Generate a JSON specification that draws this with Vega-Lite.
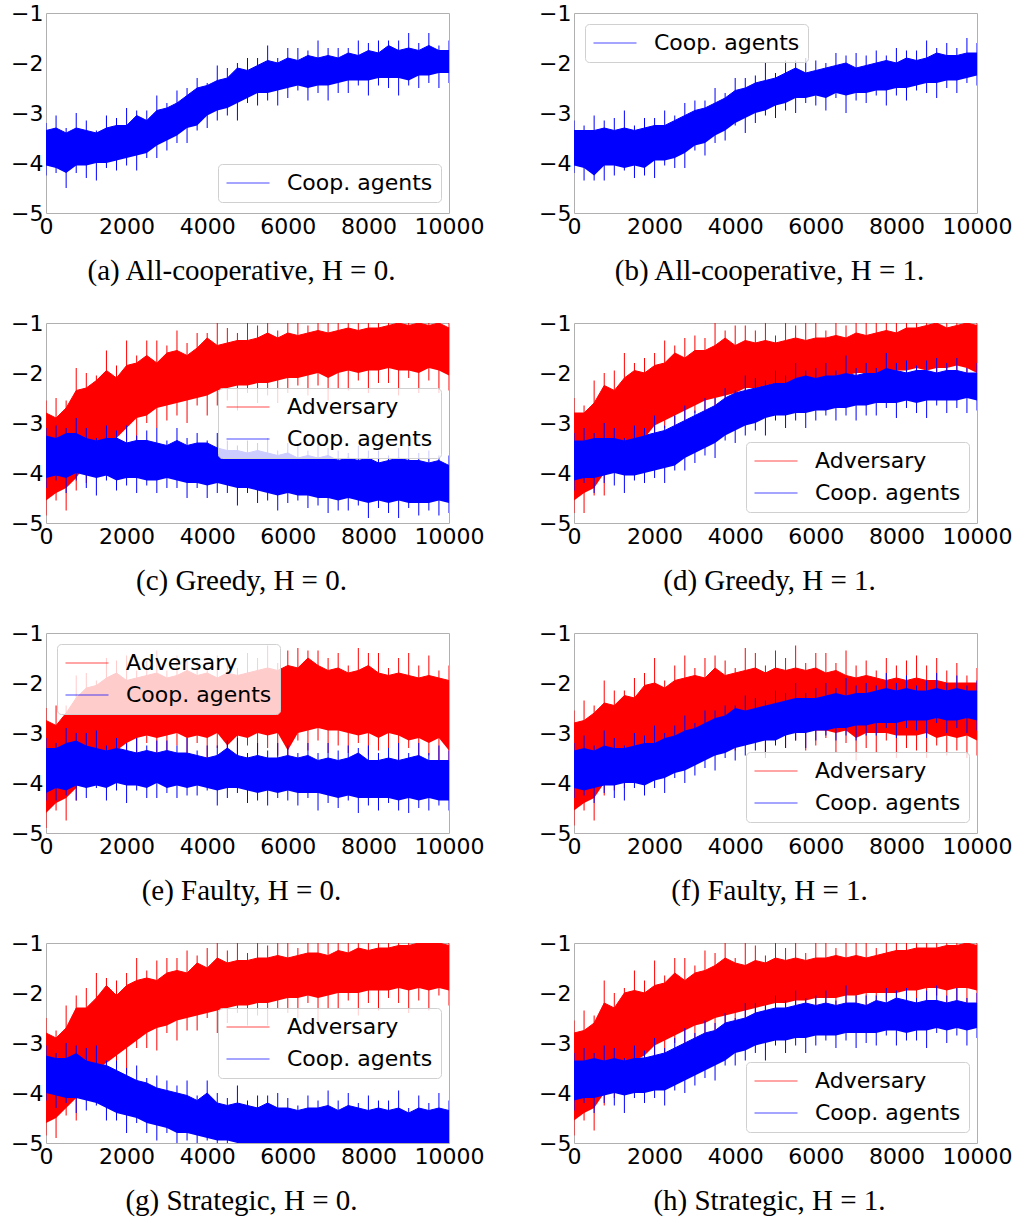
{
"$schema": "https://vega.github.io/schema/vega-lite/v6.json",
"padding": {"left": 10, "top": 1, "right": 4, "bottom": 4},
"config": {
 "font": "DejaVu Sans",
 "view": {"stroke": "#b0b0b0", "strokeWidth": 1},
 "axis": {"grid": false, "ticks": false, "tickSize": 0, "domain": false, "labelFont": "DejaVu Sans", "labelFontSize": 22, "labelColor": "black", "labelPadding": 3, "title": null, "labelFlush": false, "labelOverlap": false, "labelBound": false},
 "title": {"font": "Liberation Serif", "fontSize": 29, "fontWeight": "normal", "color": "black", "orient": "bottom", "offset": 20, "dx": -6, "anchor": "middle"},
 "legend": {"labelFont": "DejaVu Sans", "labelFontSize": 22, "labelColor": "black", "symbolType": "stroke", "symbolSize": 1849, "symbolStrokeWidth": 1.5, "symbolOpacity": 0.7, "clipHeight": 22, "rowPadding": 10, "labelOffset": 17, "padding": 8, "fillColor": "rgba(255,255,255,0.8)", "strokeColor": "#d0d0d0", "cornerRadius": 4, "labelLimit": 300},
 "rule": {"strokeWidth": 1, "xOffset": 5},
 "line": {"strokeWidth": 1}
},
"datasets": {
"a_c": [{"x":0,"h":-3.35,"l":-4.05,"u":-3.2,"d":-4.25},{"x":250,"h":-3.3,"l":-4.1,"u":-3.05,"d":-4.2},{"x":500,"h":-3.4,"l":-4.2,"u":-3.3,"d":-4.5},{"x":750,"h":-3.3,"l":-4.05,"u":-3.0,"d":-4.2},{"x":1000,"h":-3.35,"l":-4.05,"u":-3.15,"d":-4.3},{"x":1250,"h":-3.4,"l":-4.0,"u":-3.35,"d":-4.35},{"x":1500,"h":-3.3,"l":-4.0,"u":-3.05,"d":-4.1},{"x":1750,"h":-3.25,"l":-3.95,"u":-3.1,"d":-4.15},{"x":2000,"h":-3.25,"l":-3.9,"u":-2.9,"d":-4.05},{"x":2250,"h":-3.05,"l":-3.85,"u":-2.95,"d":-4.15},{"x":2500,"h":-3.15,"l":-3.8,"u":-2.95,"d":-3.9},{"x":2750,"h":-2.95,"l":-3.65,"u":-2.65,"d":-3.9},{"x":3000,"h":-2.9,"l":-3.55,"u":-2.8,"d":-3.75},{"x":3250,"h":-2.8,"l":-3.45,"u":-2.55,"d":-3.6},{"x":3500,"h":-2.65,"l":-3.3,"u":-2.5,"d":-3.6},{"x":3750,"h":-2.5,"l":-3.25,"u":-2.3,"d":-3.35},{"x":4000,"h":-2.45,"l":-3.05,"u":-2.4,"d":-3.3},{"x":4250,"h":-2.35,"l":-2.95,"u":-2.05,"d":-3.15},{"x":4500,"h":-2.3,"l":-2.9,"u":-2.1,"d":-3.05},{"x":4750,"h":-2.1,"l":-2.8,"u":-2.0,"d":-3.15},{"x":5000,"h":-2.15,"l":-2.7,"u":-1.9,"d":-2.8},{"x":5250,"h":-2.05,"l":-2.6,"u":-1.9,"d":-2.85},{"x":5500,"h":-1.95,"l":-2.6,"u":-1.65,"d":-2.75},{"x":5750,"h":-2.0,"l":-2.55,"u":-1.9,"d":-2.85},{"x":6000,"h":-1.9,"l":-2.5,"u":-1.7,"d":-2.7},{"x":6250,"h":-1.95,"l":-2.45,"u":-1.7,"d":-2.55},{"x":6500,"h":-1.85,"l":-2.5,"u":-1.75,"d":-2.75},{"x":6750,"h":-1.9,"l":-2.45,"u":-1.55,"d":-2.6},{"x":7000,"h":-1.85,"l":-2.45,"u":-1.7,"d":-2.75},{"x":7250,"h":-1.9,"l":-2.4,"u":-1.7,"d":-2.6},{"x":7500,"h":-1.8,"l":-2.35,"u":-1.7,"d":-2.6},{"x":7750,"h":-1.85,"l":-2.35,"u":-1.55,"d":-2.45},{"x":8000,"h":-1.75,"l":-2.35,"u":-1.6,"d":-2.65},{"x":8250,"h":-1.8,"l":-2.3,"u":-1.55,"d":-2.45},{"x":8500,"h":-1.65,"l":-2.3,"u":-1.55,"d":-2.5},{"x":8750,"h":-1.75,"l":-2.3,"u":-1.55,"d":-2.65},{"x":9000,"h":-1.7,"l":-2.35,"u":-1.4,"d":-2.45},{"x":9250,"h":-1.75,"l":-2.25,"u":-1.6,"d":-2.5},{"x":9500,"h":-1.65,"l":-2.25,"u":-1.4,"d":-2.4},{"x":9750,"h":-1.75,"l":-2.2,"u":-1.65,"d":-2.5},{"x":10000,"h":-1.75,"l":-2.2,"u":-1.55,"d":-2.4}],
"b_c": [{"x":0,"h":-3.35,"l":-4.05,"u":-3.15,"d":-4.2},{"x":250,"h":-3.35,"l":-4.1,"u":-3.25,"d":-4.35},{"x":500,"h":-3.35,"l":-4.25,"u":-3.05,"d":-4.35},{"x":750,"h":-3.3,"l":-4.05,"u":-3.15,"d":-4.35},{"x":1000,"h":-3.35,"l":-4.05,"u":-3.1,"d":-4.25},{"x":1250,"h":-3.3,"l":-4.1,"u":-2.95,"d":-4.15},{"x":1500,"h":-3.35,"l":-4.05,"u":-3.25,"d":-4.3},{"x":1750,"h":-3.3,"l":-4.1,"u":-3.1,"d":-4.25},{"x":2000,"h":-3.25,"l":-3.95,"u":-3.1,"d":-4.3},{"x":2250,"h":-3.25,"l":-3.95,"u":-2.95,"d":-4.05},{"x":2500,"h":-3.15,"l":-3.9,"u":-3.05,"d":-4.1},{"x":2750,"h":-3.05,"l":-3.8,"u":-2.8,"d":-4.1},{"x":3000,"h":-2.95,"l":-3.65,"u":-2.75,"d":-3.75},{"x":3250,"h":-2.9,"l":-3.6,"u":-2.75,"d":-3.85},{"x":3500,"h":-2.8,"l":-3.45,"u":-2.5,"d":-3.6},{"x":3750,"h":-2.7,"l":-3.35,"u":-2.6,"d":-3.55},{"x":4000,"h":-2.55,"l":-3.2,"u":-2.3,"d":-3.25},{"x":4250,"h":-2.5,"l":-3.1,"u":-2.3,"d":-3.4},{"x":4500,"h":-2.4,"l":-3.0,"u":-2.25,"d":-3.2},{"x":4750,"h":-2.35,"l":-2.95,"u":-2.0,"d":-3.05},{"x":5000,"h":-2.3,"l":-2.85,"u":-2.2,"d":-3.1},{"x":5250,"h":-2.2,"l":-2.8,"u":-1.95,"d":-2.95},{"x":5500,"h":-2.1,"l":-2.7,"u":-1.95,"d":-3.0},{"x":5750,"h":-2.2,"l":-2.7,"u":-1.9,"d":-2.8},{"x":6000,"h":-2.15,"l":-2.65,"u":-1.95,"d":-2.85},{"x":6250,"h":-2.1,"l":-2.7,"u":-2.0,"d":-2.95},{"x":6500,"h":-2.05,"l":-2.6,"u":-1.8,"d":-2.7},{"x":6750,"h":-2.0,"l":-2.65,"u":-1.85,"d":-3.0},{"x":7000,"h":-2.1,"l":-2.6,"u":-1.8,"d":-2.75},{"x":7250,"h":-2.05,"l":-2.6,"u":-1.85,"d":-2.8},{"x":7500,"h":-2.0,"l":-2.55,"u":-1.75,"d":-2.65},{"x":7750,"h":-1.95,"l":-2.55,"u":-1.85,"d":-2.85},{"x":8000,"h":-2.0,"l":-2.5,"u":-1.7,"d":-2.65},{"x":8250,"h":-1.9,"l":-2.5,"u":-1.75,"d":-2.75},{"x":8500,"h":-1.95,"l":-2.45,"u":-1.75,"d":-2.55},{"x":8750,"h":-1.9,"l":-2.4,"u":-1.55,"d":-2.6},{"x":9000,"h":-1.8,"l":-2.4,"u":-1.7,"d":-2.7},{"x":9250,"h":-1.85,"l":-2.35,"u":-1.6,"d":-2.5},{"x":9500,"h":-1.85,"l":-2.35,"u":-1.7,"d":-2.6},{"x":9750,"h":-1.8,"l":-2.3,"u":-1.5,"d":-2.4},{"x":10000,"h":-1.8,"l":-2.25,"u":-1.6,"d":-2.45}],
"c_a": [{"x":0,"h":-2.8,"l":-4.55,"u":-2.55,"d":-4.85},{"x":250,"h":-2.9,"l":-4.4,"u":-2.5,"d":-4.55},{"x":500,"h":-2.7,"l":-4.3,"u":-2.55,"d":-4.75},{"x":750,"h":-2.35,"l":-4.1,"u":-1.9,"d":-4.35},{"x":1000,"h":-2.3,"l":-3.8,"u":-2.0,"d":-4.2},{"x":1250,"h":-2.15,"l":-3.5,"u":-2.05,"d":-4.0},{"x":1500,"h":-1.95,"l":-3.4,"u":-1.55,"d":-3.55},{"x":1750,"h":-2.1,"l":-3.3,"u":-1.85,"d":-3.6},{"x":2000,"h":-1.85,"l":-3.1,"u":-1.35,"d":-3.35},{"x":2250,"h":-1.8,"l":-2.9,"u":-1.65,"d":-3.35},{"x":2500,"h":-1.65,"l":-2.85,"u":-1.35,"d":-3.0},{"x":2750,"h":-1.8,"l":-2.7,"u":-1.35,"d":-3.1},{"x":3000,"h":-1.6,"l":-2.65,"u":-1.45,"d":-2.95},{"x":3250,"h":-1.55,"l":-2.6,"u":-1.15,"d":-2.85},{"x":3500,"h":-1.65,"l":-2.55,"u":-1.4,"d":-3.0},{"x":3750,"h":-1.5,"l":-2.5,"u":-1.2,"d":-2.65},{"x":4000,"h":-1.3,"l":-2.45,"u":-1.2,"d":-2.85},{"x":4250,"h":-1.45,"l":-2.35,"u":-1.0,"d":-2.65},{"x":4500,"h":-1.4,"l":-2.3,"u":-1.1,"d":-2.55},{"x":4750,"h":-1.35,"l":-2.25,"u":-1.2,"d":-2.75},{"x":5000,"h":-1.35,"l":-2.25,"u":-0.95,"d":-2.4},{"x":5250,"h":-1.3,"l":-2.2,"u":-1.05,"d":-2.6},{"x":5500,"h":-1.2,"l":-2.2,"u":-0.75,"d":-2.45},{"x":5750,"h":-1.3,"l":-2.15,"u":-1.15,"d":-2.6},{"x":6000,"h":-1.2,"l":-2.1,"u":-0.9,"d":-2.4},{"x":6250,"h":-1.25,"l":-2.1,"u":-0.85,"d":-2.25},{"x":6500,"h":-1.2,"l":-2.05,"u":-1.05,"d":-2.45},{"x":6750,"h":-1.15,"l":-2.0,"u":-0.65,"d":-2.25},{"x":7000,"h":-1.2,"l":-2.1,"u":-0.95,"d":-2.55},{"x":7250,"h":-1.15,"l":-2.0,"u":-0.85,"d":-2.3},{"x":7500,"h":-1.1,"l":-1.95,"u":-0.95,"d":-2.35},{"x":7750,"h":-1.15,"l":-2.0,"u":-0.7,"d":-2.15},{"x":8000,"h":-1.1,"l":-1.95,"u":-0.85,"d":-2.4},{"x":8250,"h":-1.1,"l":-1.95,"u":-0.7,"d":-2.2},{"x":8500,"h":-1.05,"l":-1.9,"u":-0.9,"d":-2.2},{"x":8750,"h":-1.0,"l":-1.95,"u":-0.7,"d":-2.45},{"x":9000,"h":-1.05,"l":-1.95,"u":-0.6,"d":-2.1},{"x":9250,"h":-1.0,"l":-2.0,"u":-0.75,"d":-2.4},{"x":9500,"h":-1.05,"l":-1.9,"u":-0.65,"d":-2.15},{"x":9750,"h":-1.0,"l":-1.95,"u":-0.85,"d":-2.4},{"x":10000,"h":-1.1,"l":-2.05,"u":-0.8,"d":-2.35}],
"c_c": [{"x":0,"h":-3.25,"l":-4.1,"u":-3.1,"d":-4.3},{"x":250,"h":-3.3,"l":-4.05,"u":-3.05,"d":-4.15},{"x":500,"h":-3.2,"l":-4.1,"u":-3.1,"d":-4.4},{"x":750,"h":-3.2,"l":-4.0,"u":-2.9,"d":-4.15},{"x":1000,"h":-3.3,"l":-4.05,"u":-3.1,"d":-4.3},{"x":1250,"h":-3.35,"l":-4.1,"u":-3.3,"d":-4.45},{"x":1500,"h":-3.3,"l":-4.05,"u":-3.05,"d":-4.15},{"x":1750,"h":-3.3,"l":-4.15,"u":-3.15,"d":-4.35},{"x":2000,"h":-3.4,"l":-4.1,"u":-3.05,"d":-4.25},{"x":2250,"h":-3.35,"l":-4.1,"u":-3.25,"d":-4.4},{"x":2500,"h":-3.35,"l":-4.15,"u":-3.15,"d":-4.25},{"x":2750,"h":-3.4,"l":-4.15,"u":-3.1,"d":-4.4},{"x":3000,"h":-3.45,"l":-4.1,"u":-3.35,"d":-4.3},{"x":3250,"h":-3.35,"l":-4.15,"u":-3.1,"d":-4.3},{"x":3500,"h":-3.45,"l":-4.2,"u":-3.3,"d":-4.5},{"x":3750,"h":-3.4,"l":-4.2,"u":-3.2,"d":-4.3},{"x":4000,"h":-3.4,"l":-4.25,"u":-3.35,"d":-4.5},{"x":4250,"h":-3.5,"l":-4.2,"u":-3.2,"d":-4.4},{"x":4500,"h":-3.55,"l":-4.25,"u":-3.35,"d":-4.4},{"x":4750,"h":-3.55,"l":-4.3,"u":-3.45,"d":-4.65},{"x":5000,"h":-3.6,"l":-4.3,"u":-3.35,"d":-4.4},{"x":5250,"h":-3.55,"l":-4.35,"u":-3.4,"d":-4.6},{"x":5500,"h":-3.6,"l":-4.4,"u":-3.3,"d":-4.55},{"x":5750,"h":-3.65,"l":-4.45,"u":-3.55,"d":-4.75},{"x":6000,"h":-3.6,"l":-4.4,"u":-3.4,"d":-4.6},{"x":6250,"h":-3.7,"l":-4.45,"u":-3.45,"d":-4.55},{"x":6500,"h":-3.65,"l":-4.45,"u":-3.55,"d":-4.7},{"x":6750,"h":-3.7,"l":-4.5,"u":-3.35,"d":-4.65},{"x":7000,"h":-3.65,"l":-4.5,"u":-3.5,"d":-4.8},{"x":7250,"h":-3.75,"l":-4.55,"u":-3.55,"d":-4.75},{"x":7500,"h":-3.7,"l":-4.5,"u":-3.6,"d":-4.75},{"x":7750,"h":-3.75,"l":-4.55,"u":-3.45,"d":-4.65},{"x":8000,"h":-3.7,"l":-4.6,"u":-3.55,"d":-4.9},{"x":8250,"h":-3.8,"l":-4.55,"u":-3.55,"d":-4.7},{"x":8500,"h":-3.75,"l":-4.6,"u":-3.65,"d":-4.8},{"x":8750,"h":-3.7,"l":-4.55,"u":-3.5,"d":-4.9},{"x":9000,"h":-3.75,"l":-4.6,"u":-3.45,"d":-4.7},{"x":9250,"h":-3.75,"l":-4.6,"u":-3.6,"d":-4.85},{"x":9500,"h":-3.8,"l":-4.6,"u":-3.55,"d":-4.75},{"x":9750,"h":-3.75,"l":-4.55,"u":-3.65,"d":-4.85},{"x":10000,"h":-3.85,"l":-4.6,"u":-3.65,"d":-4.8}],
"d_a": [{"x":0,"h":-2.8,"l":-4.55,"u":-2.5,"d":-4.8},{"x":250,"h":-2.8,"l":-4.4,"u":-2.65,"d":-4.8},{"x":500,"h":-2.6,"l":-4.3,"u":-2.15,"d":-4.45},{"x":750,"h":-2.25,"l":-4.0,"u":-2.0,"d":-4.45},{"x":1000,"h":-2.35,"l":-3.7,"u":-1.95,"d":-4.0},{"x":1250,"h":-2.1,"l":-3.5,"u":-1.6,"d":-3.6},{"x":1500,"h":-1.95,"l":-3.4,"u":-1.8,"d":-3.8},{"x":1750,"h":-2.0,"l":-3.3,"u":-1.7,"d":-3.55},{"x":2000,"h":-1.85,"l":-3.05,"u":-1.6,"d":-3.55},{"x":2250,"h":-1.8,"l":-2.95,"u":-1.35,"d":-3.1},{"x":2500,"h":-1.6,"l":-2.85,"u":-1.45,"d":-3.15},{"x":2750,"h":-1.7,"l":-2.75,"u":-1.3,"d":-3.2},{"x":3000,"h":-1.55,"l":-2.65,"u":-1.25,"d":-2.8},{"x":3250,"h":-1.55,"l":-2.55,"u":-1.3,"d":-2.95},{"x":3500,"h":-1.45,"l":-2.5,"u":-1.0,"d":-2.75},{"x":3750,"h":-1.3,"l":-2.45,"u":-1.15,"d":-2.75},{"x":4000,"h":-1.45,"l":-2.4,"u":-1.05,"d":-2.5},{"x":4250,"h":-1.35,"l":-2.3,"u":-1.05,"d":-2.75},{"x":4500,"h":-1.4,"l":-2.3,"u":-1.15,"d":-2.6},{"x":4750,"h":-1.35,"l":-2.25,"u":-0.85,"d":-2.4},{"x":5000,"h":-1.4,"l":-2.2,"u":-1.25,"d":-2.6},{"x":5250,"h":-1.35,"l":-2.2,"u":-0.95,"d":-2.45},{"x":5500,"h":-1.3,"l":-2.15,"u":-1.05,"d":-2.6},{"x":5750,"h":-1.35,"l":-2.15,"u":-0.9,"d":-2.3},{"x":6000,"h":-1.3,"l":-2.1,"u":-1.0,"d":-2.4},{"x":6250,"h":-1.3,"l":-2.1,"u":-1.15,"d":-2.5},{"x":6500,"h":-1.25,"l":-2.05,"u":-0.85,"d":-2.2},{"x":6750,"h":-1.3,"l":-2.05,"u":-1.05,"d":-2.55},{"x":7000,"h":-1.2,"l":-2.0,"u":-0.75,"d":-2.25},{"x":7250,"h":-1.25,"l":-2.0,"u":-0.95,"d":-2.3},{"x":7500,"h":-1.2,"l":-2.0,"u":-0.8,"d":-2.15},{"x":7750,"h":-1.15,"l":-1.95,"u":-1.0,"d":-2.4},{"x":8000,"h":-1.2,"l":-1.95,"u":-0.75,"d":-2.2},{"x":8250,"h":-1.1,"l":-1.95,"u":-0.85,"d":-2.35},{"x":8500,"h":-1.1,"l":-1.9,"u":-0.8,"d":-2.05},{"x":8750,"h":-1.05,"l":-1.95,"u":-0.55,"d":-2.25},{"x":9000,"h":-1.0,"l":-1.9,"u":-0.85,"d":-2.35},{"x":9250,"h":-1.1,"l":-1.9,"u":-0.7,"d":-2.15},{"x":9500,"h":-1.05,"l":-1.85,"u":-0.8,"d":-2.25},{"x":9750,"h":-1.0,"l":-1.9,"u":-0.55,"d":-2.05},{"x":10000,"h":-1.05,"l":-2.0,"u":-0.75,"d":-2.3}],
"d_c": [{"x":0,"h":-3.35,"l":-4.15,"u":-3.2,"d":-4.35},{"x":250,"h":-3.35,"l":-4.1,"u":-3.1,"d":-4.2},{"x":500,"h":-3.3,"l":-4.1,"u":-3.2,"d":-4.4},{"x":750,"h":-3.3,"l":-4.05,"u":-3.0,"d":-4.2},{"x":1000,"h":-3.3,"l":-4.0,"u":-3.1,"d":-4.25},{"x":1250,"h":-3.35,"l":-4.05,"u":-3.3,"d":-4.4},{"x":1500,"h":-3.3,"l":-4.05,"u":-3.05,"d":-4.15},{"x":1750,"h":-3.25,"l":-4.0,"u":-3.1,"d":-4.2},{"x":2000,"h":-3.2,"l":-3.95,"u":-2.85,"d":-4.1},{"x":2250,"h":-3.15,"l":-3.9,"u":-3.05,"d":-4.2},{"x":2500,"h":-3.05,"l":-3.85,"u":-2.85,"d":-3.95},{"x":2750,"h":-2.95,"l":-3.7,"u":-2.65,"d":-3.95},{"x":3000,"h":-2.85,"l":-3.6,"u":-2.75,"d":-3.8},{"x":3250,"h":-2.75,"l":-3.5,"u":-2.5,"d":-3.65},{"x":3500,"h":-2.65,"l":-3.4,"u":-2.5,"d":-3.7},{"x":3750,"h":-2.5,"l":-3.25,"u":-2.3,"d":-3.35},{"x":4000,"h":-2.4,"l":-3.15,"u":-2.35,"d":-3.4},{"x":4250,"h":-2.35,"l":-3.05,"u":-2.05,"d":-3.25},{"x":4500,"h":-2.3,"l":-3.0,"u":-2.1,"d":-3.15},{"x":4750,"h":-2.25,"l":-2.9,"u":-2.15,"d":-3.25},{"x":5000,"h":-2.2,"l":-2.85,"u":-1.95,"d":-2.95},{"x":5250,"h":-2.2,"l":-2.85,"u":-2.05,"d":-3.1},{"x":5500,"h":-2.1,"l":-2.8,"u":-1.8,"d":-2.95},{"x":5750,"h":-2.05,"l":-2.8,"u":-1.95,"d":-3.1},{"x":6000,"h":-2.1,"l":-2.75,"u":-1.9,"d":-2.95},{"x":6250,"h":-2.05,"l":-2.75,"u":-1.8,"d":-2.85},{"x":6500,"h":-2.05,"l":-2.7,"u":-1.95,"d":-2.95},{"x":6750,"h":-2.0,"l":-2.7,"u":-1.65,"d":-2.85},{"x":7000,"h":-2.05,"l":-2.65,"u":-1.9,"d":-2.95},{"x":7250,"h":-2.0,"l":-2.65,"u":-1.8,"d":-2.85},{"x":7500,"h":-2.0,"l":-2.6,"u":-1.9,"d":-2.85},{"x":7750,"h":-1.9,"l":-2.6,"u":-1.6,"d":-2.7},{"x":8000,"h":-1.95,"l":-2.6,"u":-1.8,"d":-2.9},{"x":8250,"h":-2.0,"l":-2.55,"u":-1.75,"d":-2.7},{"x":8500,"h":-1.95,"l":-2.6,"u":-1.85,"d":-2.8},{"x":8750,"h":-1.95,"l":-2.55,"u":-1.75,"d":-2.9},{"x":9000,"h":-2.0,"l":-2.55,"u":-1.7,"d":-2.65},{"x":9250,"h":-1.95,"l":-2.55,"u":-1.8,"d":-2.8},{"x":9500,"h":-1.95,"l":-2.55,"u":-1.7,"d":-2.7},{"x":9750,"h":-2.0,"l":-2.5,"u":-1.9,"d":-2.8},{"x":10000,"h":-2.0,"l":-2.55,"u":-1.8,"d":-2.75}],
"e_a": [{"x":0,"h":-2.75,"l":-4.6,"u":-2.5,"d":-4.9},{"x":250,"h":-2.85,"l":-4.4,"u":-2.45,"d":-4.55},{"x":500,"h":-2.6,"l":-4.3,"u":-2.45,"d":-4.75},{"x":750,"h":-2.3,"l":-4.1,"u":-1.85,"d":-4.35},{"x":1000,"h":-2.1,"l":-3.7,"u":-1.8,"d":-4.1},{"x":1250,"h":-2.05,"l":-3.5,"u":-1.95,"d":-4.0},{"x":1500,"h":-1.9,"l":-3.4,"u":-1.5,"d":-3.55},{"x":1750,"h":-1.8,"l":-3.35,"u":-1.55,"d":-3.65},{"x":2000,"h":-1.95,"l":-3.2,"u":-1.45,"d":-3.45},{"x":2250,"h":-1.9,"l":-3.1,"u":-1.75,"d":-3.55},{"x":2500,"h":-1.85,"l":-3.05,"u":-1.55,"d":-3.2},{"x":2750,"h":-1.8,"l":-3.1,"u":-1.35,"d":-3.5},{"x":3000,"h":-1.9,"l":-3.05,"u":-1.75,"d":-3.35},{"x":3250,"h":-1.85,"l":-3.0,"u":-1.45,"d":-3.25},{"x":3500,"h":-1.75,"l":-3.1,"u":-1.5,"d":-3.55},{"x":3750,"h":-1.85,"l":-3.05,"u":-1.55,"d":-3.2},{"x":4000,"h":-1.8,"l":-3.1,"u":-1.7,"d":-3.5},{"x":4250,"h":-1.9,"l":-3.0,"u":-1.45,"d":-3.3},{"x":4500,"h":-1.8,"l":-3.25,"u":-1.5,"d":-3.5},{"x":4750,"h":-1.85,"l":-3.05,"u":-1.7,"d":-3.55},{"x":5000,"h":-1.8,"l":-3.1,"u":-1.4,"d":-3.25},{"x":5250,"h":-1.75,"l":-3.0,"u":-1.5,"d":-3.4},{"x":5500,"h":-1.7,"l":-3.05,"u":-1.25,"d":-3.3},{"x":5750,"h":-1.75,"l":-3.0,"u":-1.6,"d":-3.45},{"x":6000,"h":-1.65,"l":-3.35,"u":-1.35,"d":-3.65},{"x":6250,"h":-1.7,"l":-3.0,"u":-1.3,"d":-3.15},{"x":6500,"h":-1.5,"l":-2.95,"u":-1.35,"d":-3.35},{"x":6750,"h":-1.65,"l":-2.9,"u":-1.35,"d":-3.15},{"x":7000,"h":-1.75,"l":-2.95,"u":-1.5,"d":-3.4},{"x":7250,"h":-1.7,"l":-2.95,"u":-1.4,"d":-3.25},{"x":7500,"h":-1.8,"l":-3.0,"u":-1.65,"d":-3.4},{"x":7750,"h":-1.75,"l":-3.05,"u":-1.3,"d":-3.2},{"x":8000,"h":-1.65,"l":-3.0,"u":-1.4,"d":-3.45},{"x":8250,"h":-1.8,"l":-3.1,"u":-1.4,"d":-3.35},{"x":8500,"h":-1.85,"l":-3.0,"u":-1.7,"d":-3.3},{"x":8750,"h":-1.8,"l":-3.05,"u":-1.5,"d":-3.55},{"x":9000,"h":-1.85,"l":-3.15,"u":-1.4,"d":-3.3},{"x":9250,"h":-1.9,"l":-3.1,"u":-1.65,"d":-3.5},{"x":9500,"h":-1.85,"l":-3.2,"u":-1.45,"d":-3.45},{"x":9750,"h":-1.9,"l":-3.1,"u":-1.75,"d":-3.55},{"x":10000,"h":-1.95,"l":-3.35,"u":-1.65,"d":-3.65}],
"e_c": [{"x":0,"h":-3.3,"l":-4.2,"u":-3.1,"d":-4.35},{"x":250,"h":-3.3,"l":-4.1,"u":-3.2,"d":-4.35},{"x":500,"h":-3.2,"l":-4.15,"u":-2.9,"d":-4.25},{"x":750,"h":-3.15,"l":-4.05,"u":-3.0,"d":-4.35},{"x":1000,"h":-3.25,"l":-4.1,"u":-3.0,"d":-4.3},{"x":1250,"h":-3.3,"l":-4.05,"u":-2.95,"d":-4.1},{"x":1500,"h":-3.35,"l":-4.1,"u":-3.25,"d":-4.35},{"x":1750,"h":-3.3,"l":-4.0,"u":-3.1,"d":-4.15},{"x":2000,"h":-3.35,"l":-4.05,"u":-3.2,"d":-4.4},{"x":2250,"h":-3.4,"l":-4.05,"u":-3.1,"d":-4.15},{"x":2500,"h":-3.35,"l":-4.1,"u":-3.25,"d":-4.3},{"x":2750,"h":-3.4,"l":-4.0,"u":-3.15,"d":-4.3},{"x":3000,"h":-3.35,"l":-4.1,"u":-3.15,"d":-4.2},{"x":3250,"h":-3.4,"l":-4.05,"u":-3.25,"d":-4.3},{"x":3500,"h":-3.4,"l":-4.1,"u":-3.1,"d":-4.25},{"x":3750,"h":-3.45,"l":-4.05,"u":-3.35,"d":-4.25},{"x":4000,"h":-3.5,"l":-4.1,"u":-3.25,"d":-4.15},{"x":4250,"h":-3.45,"l":-4.15,"u":-3.25,"d":-4.45},{"x":4500,"h":-3.3,"l":-4.1,"u":-3.15,"d":-4.3},{"x":4750,"h":-3.45,"l":-4.1,"u":-3.1,"d":-4.2},{"x":5000,"h":-3.5,"l":-4.15,"u":-3.4,"d":-4.4},{"x":5250,"h":-3.45,"l":-4.2,"u":-3.2,"d":-4.35},{"x":5500,"h":-3.5,"l":-4.15,"u":-3.35,"d":-4.45},{"x":5750,"h":-3.5,"l":-4.2,"u":-3.2,"d":-4.3},{"x":6000,"h":-3.45,"l":-4.15,"u":-3.25,"d":-4.35},{"x":6250,"h":-3.5,"l":-4.2,"u":-3.4,"d":-4.45},{"x":6500,"h":-3.45,"l":-4.2,"u":-3.2,"d":-4.3},{"x":6750,"h":-3.55,"l":-4.2,"u":-3.4,"d":-4.55},{"x":7000,"h":-3.5,"l":-4.25,"u":-3.2,"d":-4.4},{"x":7250,"h":-3.55,"l":-4.3,"u":-3.35,"d":-4.5},{"x":7500,"h":-3.5,"l":-4.25,"u":-3.25,"d":-4.35},{"x":7750,"h":-3.4,"l":-4.3,"u":-3.3,"d":-4.6},{"x":8000,"h":-3.55,"l":-4.3,"u":-3.25,"d":-4.45},{"x":8250,"h":-3.55,"l":-4.3,"u":-3.4,"d":-4.55},{"x":8500,"h":-3.5,"l":-4.3,"u":-3.3,"d":-4.4},{"x":8750,"h":-3.55,"l":-4.35,"u":-3.2,"d":-4.55},{"x":9000,"h":-3.5,"l":-4.3,"u":-3.4,"d":-4.6},{"x":9250,"h":-3.45,"l":-4.35,"u":-3.2,"d":-4.5},{"x":9500,"h":-3.55,"l":-4.3,"u":-3.4,"d":-4.55},{"x":9750,"h":-3.55,"l":-4.35,"u":-3.25,"d":-4.45},{"x":10000,"h":-3.55,"l":-4.35,"u":-3.35,"d":-4.55}],
"f_a": [{"x":0,"h":-2.8,"l":-4.55,"u":-2.55,"d":-4.85},{"x":250,"h":-2.75,"l":-4.4,"u":-2.35,"d":-4.55},{"x":500,"h":-2.6,"l":-4.3,"u":-2.45,"d":-4.75},{"x":750,"h":-2.4,"l":-4.0,"u":-1.95,"d":-4.25},{"x":1000,"h":-2.45,"l":-3.75,"u":-2.15,"d":-4.15},{"x":1250,"h":-2.25,"l":-3.6,"u":-2.15,"d":-4.1},{"x":1500,"h":-2.3,"l":-3.45,"u":-1.9,"d":-3.6},{"x":1750,"h":-2.05,"l":-3.35,"u":-1.8,"d":-3.65},{"x":2000,"h":-2.0,"l":-3.3,"u":-1.5,"d":-3.55},{"x":2250,"h":-2.1,"l":-3.2,"u":-1.95,"d":-3.65},{"x":2500,"h":-1.95,"l":-3.15,"u":-1.65,"d":-3.3},{"x":2750,"h":-1.9,"l":-3.1,"u":-1.45,"d":-3.5},{"x":3000,"h":-1.85,"l":-3.1,"u":-1.7,"d":-3.4},{"x":3250,"h":-1.9,"l":-3.05,"u":-1.5,"d":-3.3},{"x":3500,"h":-1.7,"l":-3.0,"u":-1.45,"d":-3.45},{"x":3750,"h":-1.85,"l":-3.0,"u":-1.55,"d":-3.15},{"x":4000,"h":-1.8,"l":-2.95,"u":-1.7,"d":-3.35},{"x":4250,"h":-1.75,"l":-2.95,"u":-1.3,"d":-3.25},{"x":4500,"h":-1.7,"l":-2.9,"u":-1.4,"d":-3.15},{"x":4750,"h":-1.8,"l":-2.95,"u":-1.65,"d":-3.45},{"x":5000,"h":-1.7,"l":-2.9,"u":-1.35,"d":-3.05},{"x":5250,"h":-1.75,"l":-2.9,"u":-1.5,"d":-3.3},{"x":5500,"h":-1.7,"l":-2.9,"u":-1.25,"d":-3.15},{"x":5750,"h":-1.75,"l":-2.9,"u":-1.6,"d":-3.35},{"x":6000,"h":-1.7,"l":-2.95,"u":-1.4,"d":-3.25},{"x":6250,"h":-1.8,"l":-2.95,"u":-1.4,"d":-3.1},{"x":6500,"h":-1.75,"l":-3.0,"u":-1.6,"d":-3.4},{"x":6750,"h":-1.85,"l":-2.95,"u":-1.35,"d":-3.2},{"x":7000,"h":-1.9,"l":-3.1,"u":-1.65,"d":-3.55},{"x":7250,"h":-1.85,"l":-3.0,"u":-1.55,"d":-3.3},{"x":7500,"h":-1.9,"l":-3.0,"u":-1.75,"d":-3.4},{"x":7750,"h":-1.95,"l":-3.0,"u":-1.5,"d":-3.15},{"x":8000,"h":-1.9,"l":-3.05,"u":-1.65,"d":-3.5},{"x":8250,"h":-1.95,"l":-3.05,"u":-1.55,"d":-3.3},{"x":8500,"h":-1.9,"l":-3.05,"u":-1.45,"d":-3.35},{"x":8750,"h":-1.95,"l":-3.0,"u":-1.65,"d":-3.5},{"x":9000,"h":-1.95,"l":-3.1,"u":-1.5,"d":-3.25},{"x":9250,"h":-2.0,"l":-3.05,"u":-1.75,"d":-3.45},{"x":9500,"h":-2.0,"l":-3.1,"u":-1.6,"d":-3.35},{"x":9750,"h":-2.0,"l":-3.05,"u":-1.85,"d":-3.5},{"x":10000,"h":-2.0,"l":-3.15,"u":-1.7,"d":-3.45}],
"f_c": [{"x":0,"h":-3.35,"l":-4.1,"u":-3.2,"d":-4.3},{"x":250,"h":-3.3,"l":-4.15,"u":-3.05,"d":-4.25},{"x":500,"h":-3.35,"l":-4.1,"u":-3.25,"d":-4.4},{"x":750,"h":-3.25,"l":-4.05,"u":-2.95,"d":-4.2},{"x":1000,"h":-3.3,"l":-4.05,"u":-3.1,"d":-4.3},{"x":1250,"h":-3.3,"l":-4.0,"u":-3.25,"d":-4.35},{"x":1500,"h":-3.25,"l":-4.0,"u":-3.0,"d":-4.1},{"x":1750,"h":-3.2,"l":-4.05,"u":-3.05,"d":-4.25},{"x":2000,"h":-3.2,"l":-3.95,"u":-2.85,"d":-4.1},{"x":2250,"h":-3.1,"l":-3.9,"u":-3.0,"d":-4.2},{"x":2500,"h":-3.05,"l":-3.8,"u":-2.85,"d":-3.9},{"x":2750,"h":-2.95,"l":-3.75,"u":-2.65,"d":-4.0},{"x":3000,"h":-2.9,"l":-3.65,"u":-2.8,"d":-3.85},{"x":3250,"h":-2.8,"l":-3.55,"u":-2.55,"d":-3.7},{"x":3500,"h":-2.7,"l":-3.45,"u":-2.55,"d":-3.75},{"x":3750,"h":-2.65,"l":-3.4,"u":-2.45,"d":-3.5},{"x":4000,"h":-2.5,"l":-3.3,"u":-2.45,"d":-3.55},{"x":4250,"h":-2.55,"l":-3.25,"u":-2.25,"d":-3.45},{"x":4500,"h":-2.5,"l":-3.2,"u":-2.3,"d":-3.35},{"x":4750,"h":-2.45,"l":-3.15,"u":-2.35,"d":-3.5},{"x":5000,"h":-2.4,"l":-3.15,"u":-2.15,"d":-3.25},{"x":5250,"h":-2.35,"l":-3.05,"u":-2.2,"d":-3.3},{"x":5500,"h":-2.3,"l":-3.0,"u":-2.0,"d":-3.15},{"x":5750,"h":-2.3,"l":-3.0,"u":-2.2,"d":-3.3},{"x":6000,"h":-2.3,"l":-2.95,"u":-2.1,"d":-3.15},{"x":6250,"h":-2.25,"l":-2.95,"u":-2.0,"d":-3.05},{"x":6500,"h":-2.2,"l":-2.9,"u":-2.1,"d":-3.15},{"x":6750,"h":-2.25,"l":-2.9,"u":-1.9,"d":-3.05},{"x":7000,"h":-2.2,"l":-2.85,"u":-2.05,"d":-3.15},{"x":7250,"h":-2.2,"l":-2.85,"u":-2.0,"d":-3.05},{"x":7500,"h":-2.15,"l":-2.8,"u":-2.05,"d":-3.05},{"x":7750,"h":-2.1,"l":-2.8,"u":-1.8,"d":-2.9},{"x":8000,"h":-2.15,"l":-2.8,"u":-2.0,"d":-3.1},{"x":8250,"h":-2.1,"l":-2.75,"u":-1.85,"d":-2.9},{"x":8500,"h":-2.15,"l":-2.75,"u":-2.05,"d":-2.95},{"x":8750,"h":-2.15,"l":-2.75,"u":-1.95,"d":-3.1},{"x":9000,"h":-2.1,"l":-2.7,"u":-1.8,"d":-2.8},{"x":9250,"h":-2.15,"l":-2.75,"u":-2.0,"d":-3.0},{"x":9500,"h":-2.1,"l":-2.75,"u":-1.85,"d":-2.9},{"x":9750,"h":-2.15,"l":-2.7,"u":-2.05,"d":-3.0},{"x":10000,"h":-2.15,"l":-2.75,"u":-1.95,"d":-2.95}],
"g_a": [{"x":0,"h":-2.8,"l":-4.6,"u":-2.5,"d":-4.85},{"x":250,"h":-2.9,"l":-4.5,"u":-2.75,"d":-4.9},{"x":500,"h":-2.7,"l":-4.3,"u":-2.25,"d":-4.45},{"x":750,"h":-2.3,"l":-4.1,"u":-2.05,"d":-4.55},{"x":1000,"h":-2.3,"l":-3.75,"u":-1.9,"d":-4.05},{"x":1250,"h":-2.1,"l":-3.5,"u":-1.6,"d":-3.6},{"x":1500,"h":-1.85,"l":-3.4,"u":-1.7,"d":-3.8},{"x":1750,"h":-2.05,"l":-3.25,"u":-1.75,"d":-3.5},{"x":2000,"h":-1.85,"l":-3.1,"u":-1.6,"d":-3.6},{"x":2250,"h":-1.75,"l":-2.95,"u":-1.3,"d":-3.1},{"x":2500,"h":-1.7,"l":-2.8,"u":-1.55,"d":-3.1},{"x":2750,"h":-1.75,"l":-2.7,"u":-1.35,"d":-3.15},{"x":3000,"h":-1.6,"l":-2.65,"u":-1.3,"d":-2.8},{"x":3250,"h":-1.55,"l":-2.55,"u":-1.3,"d":-2.95},{"x":3500,"h":-1.6,"l":-2.5,"u":-1.15,"d":-2.75},{"x":3750,"h":-1.4,"l":-2.45,"u":-1.25,"d":-2.75},{"x":4000,"h":-1.5,"l":-2.4,"u":-1.1,"d":-2.5},{"x":4250,"h":-1.3,"l":-2.35,"u":-1.0,"d":-2.8},{"x":4500,"h":-1.4,"l":-2.3,"u":-1.15,"d":-2.6},{"x":4750,"h":-1.35,"l":-2.25,"u":-0.85,"d":-2.4},{"x":5000,"h":-1.35,"l":-2.25,"u":-1.2,"d":-2.65},{"x":5250,"h":-1.3,"l":-2.2,"u":-0.9,"d":-2.45},{"x":5500,"h":-1.3,"l":-2.2,"u":-1.05,"d":-2.65},{"x":5750,"h":-1.25,"l":-2.15,"u":-0.8,"d":-2.3},{"x":6000,"h":-1.3,"l":-2.1,"u":-1.0,"d":-2.4},{"x":6250,"h":-1.25,"l":-2.1,"u":-1.1,"d":-2.5},{"x":6500,"h":-1.2,"l":-2.05,"u":-0.8,"d":-2.2},{"x":6750,"h":-1.2,"l":-2.1,"u":-0.95,"d":-2.6},{"x":7000,"h":-1.25,"l":-2.05,"u":-0.8,"d":-2.3},{"x":7250,"h":-1.15,"l":-2.0,"u":-0.85,"d":-2.3},{"x":7500,"h":-1.2,"l":-2.0,"u":-0.8,"d":-2.15},{"x":7750,"h":-1.1,"l":-2.0,"u":-0.95,"d":-2.45},{"x":8000,"h":-1.15,"l":-1.95,"u":-0.7,"d":-2.2},{"x":8250,"h":-1.1,"l":-1.95,"u":-0.85,"d":-2.35},{"x":8500,"h":-1.1,"l":-1.95,"u":-0.8,"d":-2.1},{"x":8750,"h":-1.05,"l":-1.9,"u":-0.55,"d":-2.2},{"x":9000,"h":-1.05,"l":-1.95,"u":-0.9,"d":-2.4},{"x":9250,"h":-1.0,"l":-1.9,"u":-0.6,"d":-2.15},{"x":9500,"h":-1.0,"l":-1.95,"u":-0.75,"d":-2.35},{"x":9750,"h":-1.0,"l":-1.9,"u":-0.55,"d":-2.05},{"x":10000,"h":-1.05,"l":-1.95,"u":-0.75,"d":-2.25}],
"g_c": [{"x":0,"h":-3.25,"l":-4.0,"u":-3.05,"d":-4.15},{"x":250,"h":-3.3,"l":-4.05,"u":-3.2,"d":-4.3},{"x":500,"h":-3.3,"l":-4.1,"u":-3.0,"d":-4.2},{"x":750,"h":-3.2,"l":-4.1,"u":-3.05,"d":-4.4},{"x":1000,"h":-3.35,"l":-4.15,"u":-3.1,"d":-4.35},{"x":1250,"h":-3.4,"l":-4.2,"u":-3.05,"d":-4.25},{"x":1500,"h":-3.45,"l":-4.3,"u":-3.35,"d":-4.55},{"x":1750,"h":-3.55,"l":-4.4,"u":-3.35,"d":-4.55},{"x":2000,"h":-3.65,"l":-4.45,"u":-3.5,"d":-4.8},{"x":2250,"h":-3.75,"l":-4.5,"u":-3.45,"d":-4.6},{"x":2500,"h":-3.8,"l":-4.6,"u":-3.7,"d":-4.8},{"x":2750,"h":-3.9,"l":-4.65,"u":-3.65,"d":-4.95},{"x":3000,"h":-3.95,"l":-4.7,"u":-3.75,"d":-4.8},{"x":3250,"h":-4.0,"l":-4.8,"u":-3.85,"d":-5.05},{"x":3500,"h":-4.05,"l":-4.8,"u":-3.75,"d":-4.95},{"x":3750,"h":-4.15,"l":-4.85,"u":-4.05,"d":-5.05},{"x":4000,"h":-4.0,"l":-4.9,"u":-3.75,"d":-4.95},{"x":4250,"h":-4.2,"l":-4.95,"u":-4.0,"d":-5.25},{"x":4500,"h":-4.25,"l":-4.95,"u":-4.1,"d":-5.15},{"x":4750,"h":-4.2,"l":-5.0,"u":-3.85,"d":-5.1},{"x":5000,"h":-4.25,"l":-5.05,"u":-4.15,"d":-5.3},{"x":5250,"h":-4.3,"l":-5.05,"u":-4.05,"d":-5.3},{"x":5500,"h":-4.2,"l":-5.1,"u":-4.05,"d":-5.3},{"x":5750,"h":-4.3,"l":-5.1,"u":-4.0,"d":-5.3},{"x":6000,"h":-4.3,"l":-5.1,"u":-4.1,"d":-5.3},{"x":6250,"h":-4.35,"l":-5.1,"u":-4.25,"d":-5.3},{"x":6500,"h":-4.3,"l":-5.1,"u":-4.05,"d":-5.3},{"x":6750,"h":-4.3,"l":-5.1,"u":-4.15,"d":-5.3},{"x":7000,"h":-4.25,"l":-5.1,"u":-3.95,"d":-5.3},{"x":7250,"h":-4.35,"l":-5.1,"u":-4.15,"d":-5.3},{"x":7500,"h":-4.25,"l":-5.1,"u":-4.0,"d":-5.3},{"x":7750,"h":-4.3,"l":-5.1,"u":-4.2,"d":-5.3},{"x":8000,"h":-4.35,"l":-5.1,"u":-4.05,"d":-5.3},{"x":8250,"h":-4.3,"l":-5.1,"u":-4.15,"d":-5.3},{"x":8500,"h":-4.35,"l":-5.1,"u":-4.15,"d":-5.3},{"x":8750,"h":-4.3,"l":-5.1,"u":-3.95,"d":-5.3},{"x":9000,"h":-4.4,"l":-5.1,"u":-4.3,"d":-5.3},{"x":9250,"h":-4.3,"l":-5.1,"u":-4.05,"d":-5.3},{"x":9500,"h":-4.35,"l":-5.1,"u":-4.2,"d":-5.3},{"x":9750,"h":-4.3,"l":-5.1,"u":-4.0,"d":-5.3},{"x":10000,"h":-4.35,"l":-5.1,"u":-4.15,"d":-5.3}],
"h_a": [{"x":0,"h":-2.8,"l":-4.55,"u":-2.55,"d":-4.85},{"x":250,"h":-2.75,"l":-4.4,"u":-2.35,"d":-4.55},{"x":500,"h":-2.6,"l":-4.3,"u":-2.45,"d":-4.75},{"x":750,"h":-2.2,"l":-4.0,"u":-1.75,"d":-4.25},{"x":1000,"h":-2.3,"l":-3.7,"u":-2.0,"d":-4.1},{"x":1250,"h":-2.0,"l":-3.5,"u":-1.9,"d":-4.0},{"x":1500,"h":-1.95,"l":-3.35,"u":-1.55,"d":-3.5},{"x":1750,"h":-2.0,"l":-3.25,"u":-1.75,"d":-3.55},{"x":2000,"h":-1.85,"l":-3.05,"u":-1.35,"d":-3.3},{"x":2250,"h":-1.8,"l":-2.95,"u":-1.65,"d":-3.4},{"x":2500,"h":-1.6,"l":-2.85,"u":-1.3,"d":-3.0},{"x":2750,"h":-1.75,"l":-2.75,"u":-1.3,"d":-3.15},{"x":3000,"h":-1.6,"l":-2.65,"u":-1.45,"d":-2.95},{"x":3250,"h":-1.55,"l":-2.6,"u":-1.15,"d":-2.85},{"x":3500,"h":-1.45,"l":-2.5,"u":-1.2,"d":-2.95},{"x":3750,"h":-1.3,"l":-2.45,"u":-1.0,"d":-2.6},{"x":4000,"h":-1.4,"l":-2.4,"u":-1.3,"d":-2.8},{"x":4250,"h":-1.45,"l":-2.35,"u":-1.0,"d":-2.65},{"x":4500,"h":-1.35,"l":-2.3,"u":-1.05,"d":-2.55},{"x":4750,"h":-1.4,"l":-2.25,"u":-1.25,"d":-2.75},{"x":5000,"h":-1.3,"l":-2.2,"u":-0.9,"d":-2.35},{"x":5250,"h":-1.35,"l":-2.2,"u":-1.1,"d":-2.6},{"x":5500,"h":-1.3,"l":-2.15,"u":-0.85,"d":-2.4},{"x":5750,"h":-1.35,"l":-2.15,"u":-1.2,"d":-2.6},{"x":6000,"h":-1.3,"l":-2.1,"u":-1.0,"d":-2.4},{"x":6250,"h":-1.3,"l":-2.1,"u":-0.9,"d":-2.25},{"x":6500,"h":-1.25,"l":-2.1,"u":-1.1,"d":-2.5},{"x":6750,"h":-1.3,"l":-2.05,"u":-0.8,"d":-2.3},{"x":7000,"h":-1.25,"l":-2.05,"u":-1.0,"d":-2.5},{"x":7250,"h":-1.3,"l":-2.0,"u":-1.0,"d":-2.3},{"x":7500,"h":-1.25,"l":-2.0,"u":-1.1,"d":-2.4},{"x":7750,"h":-1.2,"l":-2.0,"u":-0.75,"d":-2.15},{"x":8000,"h":-1.15,"l":-2.0,"u":-0.9,"d":-2.45},{"x":8250,"h":-1.15,"l":-1.95,"u":-0.75,"d":-2.2},{"x":8500,"h":-1.1,"l":-1.95,"u":-0.95,"d":-2.25},{"x":8750,"h":-1.1,"l":-1.9,"u":-0.8,"d":-2.4},{"x":9000,"h":-1.1,"l":-1.9,"u":-0.65,"d":-2.05},{"x":9250,"h":-1.05,"l":-1.95,"u":-0.8,"d":-2.35},{"x":9500,"h":-1.05,"l":-1.9,"u":-0.65,"d":-2.15},{"x":9750,"h":-1.0,"l":-1.9,"u":-0.85,"d":-2.35},{"x":10000,"h":-1.05,"l":-1.95,"u":-0.75,"d":-2.25}],
"h_c": [{"x":0,"h":-3.35,"l":-4.15,"u":-3.2,"d":-4.35},{"x":250,"h":-3.35,"l":-4.1,"u":-3.1,"d":-4.2},{"x":500,"h":-3.3,"l":-4.1,"u":-3.2,"d":-4.4},{"x":750,"h":-3.35,"l":-4.05,"u":-3.05,"d":-4.2},{"x":1000,"h":-3.3,"l":-4.0,"u":-3.1,"d":-4.25},{"x":1250,"h":-3.35,"l":-4.05,"u":-3.3,"d":-4.4},{"x":1500,"h":-3.3,"l":-4.0,"u":-3.05,"d":-4.1},{"x":1750,"h":-3.3,"l":-4.0,"u":-3.15,"d":-4.2},{"x":2000,"h":-3.25,"l":-3.95,"u":-2.9,"d":-4.1},{"x":2250,"h":-3.2,"l":-3.95,"u":-3.1,"d":-4.25},{"x":2500,"h":-3.1,"l":-3.85,"u":-2.9,"d":-3.95},{"x":2750,"h":-3.0,"l":-3.75,"u":-2.7,"d":-4.0},{"x":3000,"h":-2.9,"l":-3.65,"u":-2.8,"d":-3.85},{"x":3250,"h":-2.8,"l":-3.55,"u":-2.55,"d":-3.7},{"x":3500,"h":-2.75,"l":-3.45,"u":-2.6,"d":-3.75},{"x":3750,"h":-2.6,"l":-3.35,"u":-2.4,"d":-3.45},{"x":4000,"h":-2.55,"l":-3.2,"u":-2.5,"d":-3.45},{"x":4250,"h":-2.5,"l":-3.15,"u":-2.2,"d":-3.35},{"x":4500,"h":-2.4,"l":-3.05,"u":-2.2,"d":-3.2},{"x":4750,"h":-2.35,"l":-3.0,"u":-2.25,"d":-3.35},{"x":5000,"h":-2.3,"l":-2.95,"u":-2.05,"d":-3.05},{"x":5250,"h":-2.3,"l":-2.95,"u":-2.15,"d":-3.2},{"x":5500,"h":-2.25,"l":-2.9,"u":-1.95,"d":-3.05},{"x":5750,"h":-2.2,"l":-2.9,"u":-2.1,"d":-3.2},{"x":6000,"h":-2.25,"l":-2.85,"u":-2.05,"d":-3.05},{"x":6250,"h":-2.2,"l":-2.85,"u":-1.95,"d":-2.95},{"x":6500,"h":-2.25,"l":-2.85,"u":-2.15,"d":-3.1},{"x":6750,"h":-2.2,"l":-2.8,"u":-1.85,"d":-2.95},{"x":7000,"h":-2.2,"l":-2.8,"u":-2.05,"d":-3.1},{"x":7250,"h":-2.25,"l":-2.8,"u":-2.05,"d":-3.0},{"x":7500,"h":-2.15,"l":-2.8,"u":-2.05,"d":-3.05},{"x":7750,"h":-2.2,"l":-2.75,"u":-1.9,"d":-2.85},{"x":8000,"h":-2.1,"l":-2.75,"u":-1.95,"d":-3.05},{"x":8250,"h":-2.15,"l":-2.8,"u":-1.9,"d":-2.95},{"x":8500,"h":-2.2,"l":-2.75,"u":-2.1,"d":-2.95},{"x":8750,"h":-2.15,"l":-2.75,"u":-1.95,"d":-3.1},{"x":9000,"h":-2.15,"l":-2.7,"u":-1.85,"d":-2.8},{"x":9250,"h":-2.2,"l":-2.75,"u":-2.05,"d":-3.0},{"x":9500,"h":-2.15,"l":-2.7,"u":-1.9,"d":-2.85},{"x":9750,"h":-2.2,"l":-2.75,"u":-2.1,"d":-3.05},{"x":10000,"h":-2.2,"l":-2.7,"u":-2.0,"d":-2.9}]
},
"spacing": 310,
"bounds": "flush",
"resolve": {"scale": {"color": "independent"}, "legend": {"color": "independent"}},
"vconcat": [
{"hconcat": [
 {"width": 403, "height": 200, "title": "(a) All-cooperative, H = 0.",
  "layer": [
   {"data": {"name": "a_c"}, "mark": {"type": "line", "clip": true},
    "encoding": {"x": {"field": "x", "type": "quantitative", "scale": {"domain": [0, 10000], "nice": false}, "axis": {"values": [0, 2000, 4000, 6000, 8000, 10000], "format": "d"}},
     "y": {"field": "h", "type": "quantitative", "scale": {"domain": [-5, -1], "nice": false}, "axis": {"values": [-5, -4, -3, -2, -1], "format": "d"}},
     "color": {"datum": "Coop. agents", "scale": {"domain": ["Coop. agents"], "range": ["#0000ff"]}, "legend": {"title": null, "orient": "none", "legendX": 172, "legendY": 151}}}},
   {"data": {"name": "a_c"}, "mark": {"type": "area", "clip": true},
    "encoding": {"x": {"field": "x", "type": "quantitative"}, "y": {"field": "h", "type": "quantitative"}, "y2": {"field": "l"}, "color": {"datum": "Coop. agents", "legend": null}}},
   {"data": {"name": "a_c"}, "mark": {"type": "rule", "clip": true},
    "encoding": {"x": {"field": "x", "type": "quantitative"}, "y": {"field": "u", "type": "quantitative"}, "y2": {"field": "d"}, "color": {"datum": "Coop. agents", "legend": null}}}
  ]},
 {"width": 403, "height": 200, "title": "(b) All-cooperative, H = 1.",
  "layer": [
   {"data": {"name": "b_c"}, "mark": {"type": "line", "clip": true},
    "encoding": {"x": {"field": "x", "type": "quantitative", "scale": {"domain": [0, 10000], "nice": false}, "axis": {"values": [0, 2000, 4000, 6000, 8000, 10000], "format": "d"}},
     "y": {"field": "h", "type": "quantitative", "scale": {"domain": [-5, -1], "nice": false}, "axis": {"values": [-5, -4, -3, -2, -1], "format": "d"}},
     "color": {"datum": "Coop. agents", "scale": {"domain": ["Coop. agents"], "range": ["#0000ff"]}, "legend": {"title": null, "orient": "none", "legendX": 11, "legendY": 11}}}},
   {"data": {"name": "b_c"}, "mark": {"type": "area", "clip": true},
    "encoding": {"x": {"field": "x", "type": "quantitative"}, "y": {"field": "h", "type": "quantitative"}, "y2": {"field": "l"}, "color": {"datum": "Coop. agents", "legend": null}}},
   {"data": {"name": "b_c"}, "mark": {"type": "rule", "clip": true},
    "encoding": {"x": {"field": "x", "type": "quantitative"}, "y": {"field": "u", "type": "quantitative"}, "y2": {"field": "d"}, "color": {"datum": "Coop. agents", "legend": null}}}
  ]}
 ], "spacing": 125, "bounds": "flush", "resolve": {"scale": {"color": "independent"}, "legend": {"color": "independent"}}},
{"hconcat": [
 {"width": 403, "height": 200, "title": "(c) Greedy, H = 0.",
  "layer": [
   {"data": {"name": "c_a"}, "mark": {"type": "line", "clip": true},
    "encoding": {"x": {"field": "x", "type": "quantitative", "scale": {"domain": [0, 10000], "nice": false}, "axis": {"values": [0, 2000, 4000, 6000, 8000, 10000], "format": "d"}},
     "y": {"field": "h", "type": "quantitative", "scale": {"domain": [-5, -1], "nice": false}, "axis": {"values": [-5, -4, -3, -2, -1], "format": "d"}},
     "color": {"datum": "Adversary", "scale": {"domain": ["Adversary", "Coop. agents"], "range": ["#ff0000", "#0000ff"]}, "legend": {"title": null, "orient": "none", "legendX": 172, "legendY": 65}}}},
   {"data": {"name": "c_c"}, "mark": {"type": "line", "clip": true},
    "encoding": {"x": {"field": "x", "type": "quantitative"}, "y": {"field": "h", "type": "quantitative"}, "color": {"datum": "Coop. agents", "legend": {"title": null, "orient": "none", "legendX": 172, "legendY": 65}}}},
   {"data": {"name": "c_a"}, "mark": {"type": "area", "clip": true},
    "encoding": {"x": {"field": "x", "type": "quantitative"}, "y": {"field": "h", "type": "quantitative"}, "y2": {"field": "l"}, "color": {"datum": "Adversary", "legend": null}}},
   {"data": {"name": "c_a"}, "mark": {"type": "rule", "clip": true},
    "encoding": {"x": {"field": "x", "type": "quantitative"}, "y": {"field": "u", "type": "quantitative"}, "y2": {"field": "d"}, "color": {"datum": "Adversary", "legend": null}}},
   {"data": {"name": "c_c"}, "mark": {"type": "area", "clip": true},
    "encoding": {"x": {"field": "x", "type": "quantitative"}, "y": {"field": "h", "type": "quantitative"}, "y2": {"field": "l"}, "color": {"datum": "Coop. agents", "legend": null}}},
   {"data": {"name": "c_c"}, "mark": {"type": "rule", "clip": true},
    "encoding": {"x": {"field": "x", "type": "quantitative"}, "y": {"field": "u", "type": "quantitative"}, "y2": {"field": "d"}, "color": {"datum": "Coop. agents", "legend": null}}}
  ]},
 {"width": 403, "height": 200, "title": "(d) Greedy, H = 1.",
  "layer": [
   {"data": {"name": "d_a"}, "mark": {"type": "line", "clip": true},
    "encoding": {"x": {"field": "x", "type": "quantitative", "scale": {"domain": [0, 10000], "nice": false}, "axis": {"values": [0, 2000, 4000, 6000, 8000, 10000], "format": "d"}},
     "y": {"field": "h", "type": "quantitative", "scale": {"domain": [-5, -1], "nice": false}, "axis": {"values": [-5, -4, -3, -2, -1], "format": "d"}},
     "color": {"datum": "Adversary", "scale": {"domain": ["Adversary", "Coop. agents"], "range": ["#ff0000", "#0000ff"]}, "legend": {"title": null, "orient": "none", "legendX": 172, "legendY": 119}}}},
   {"data": {"name": "d_c"}, "mark": {"type": "line", "clip": true},
    "encoding": {"x": {"field": "x", "type": "quantitative"}, "y": {"field": "h", "type": "quantitative"}, "color": {"datum": "Coop. agents", "legend": {"title": null, "orient": "none", "legendX": 172, "legendY": 119}}}},
   {"data": {"name": "d_a"}, "mark": {"type": "area", "clip": true},
    "encoding": {"x": {"field": "x", "type": "quantitative"}, "y": {"field": "h", "type": "quantitative"}, "y2": {"field": "l"}, "color": {"datum": "Adversary", "legend": null}}},
   {"data": {"name": "d_a"}, "mark": {"type": "rule", "clip": true},
    "encoding": {"x": {"field": "x", "type": "quantitative"}, "y": {"field": "u", "type": "quantitative"}, "y2": {"field": "d"}, "color": {"datum": "Adversary", "legend": null}}},
   {"data": {"name": "d_c"}, "mark": {"type": "area", "clip": true},
    "encoding": {"x": {"field": "x", "type": "quantitative"}, "y": {"field": "h", "type": "quantitative"}, "y2": {"field": "l"}, "color": {"datum": "Coop. agents", "legend": null}}},
   {"data": {"name": "d_c"}, "mark": {"type": "rule", "clip": true},
    "encoding": {"x": {"field": "x", "type": "quantitative"}, "y": {"field": "u", "type": "quantitative"}, "y2": {"field": "d"}, "color": {"datum": "Coop. agents", "legend": null}}}
  ]}
 ], "spacing": 125, "bounds": "flush", "resolve": {"scale": {"color": "independent"}, "legend": {"color": "independent"}}},
{"hconcat": [
 {"width": 403, "height": 200, "title": "(e) Faulty, H = 0.",
  "layer": [
   {"data": {"name": "e_a"}, "mark": {"type": "line", "clip": true},
    "encoding": {"x": {"field": "x", "type": "quantitative", "scale": {"domain": [0, 10000], "nice": false}, "axis": {"values": [0, 2000, 4000, 6000, 8000, 10000], "format": "d"}},
     "y": {"field": "h", "type": "quantitative", "scale": {"domain": [-5, -1], "nice": false}, "axis": {"values": [-5, -4, -3, -2, -1], "format": "d"}},
     "color": {"datum": "Adversary", "scale": {"domain": ["Adversary", "Coop. agents"], "range": ["#ff0000", "#0000ff"]}, "legend": {"title": null, "orient": "none", "legendX": 11, "legendY": 11}}}},
   {"data": {"name": "e_c"}, "mark": {"type": "line", "clip": true},
    "encoding": {"x": {"field": "x", "type": "quantitative"}, "y": {"field": "h", "type": "quantitative"}, "color": {"datum": "Coop. agents", "legend": {"title": null, "orient": "none", "legendX": 11, "legendY": 11}}}},
   {"data": {"name": "e_a"}, "mark": {"type": "area", "clip": true},
    "encoding": {"x": {"field": "x", "type": "quantitative"}, "y": {"field": "h", "type": "quantitative"}, "y2": {"field": "l"}, "color": {"datum": "Adversary", "legend": null}}},
   {"data": {"name": "e_a"}, "mark": {"type": "rule", "clip": true},
    "encoding": {"x": {"field": "x", "type": "quantitative"}, "y": {"field": "u", "type": "quantitative"}, "y2": {"field": "d"}, "color": {"datum": "Adversary", "legend": null}}},
   {"data": {"name": "e_c"}, "mark": {"type": "area", "clip": true},
    "encoding": {"x": {"field": "x", "type": "quantitative"}, "y": {"field": "h", "type": "quantitative"}, "y2": {"field": "l"}, "color": {"datum": "Coop. agents", "legend": null}}},
   {"data": {"name": "e_c"}, "mark": {"type": "rule", "clip": true},
    "encoding": {"x": {"field": "x", "type": "quantitative"}, "y": {"field": "u", "type": "quantitative"}, "y2": {"field": "d"}, "color": {"datum": "Coop. agents", "legend": null}}}
  ]},
 {"width": 403, "height": 200, "title": "(f) Faulty, H = 1.",
  "layer": [
   {"data": {"name": "f_a"}, "mark": {"type": "line", "clip": true},
    "encoding": {"x": {"field": "x", "type": "quantitative", "scale": {"domain": [0, 10000], "nice": false}, "axis": {"values": [0, 2000, 4000, 6000, 8000, 10000], "format": "d"}},
     "y": {"field": "h", "type": "quantitative", "scale": {"domain": [-5, -1], "nice": false}, "axis": {"values": [-5, -4, -3, -2, -1], "format": "d"}},
     "color": {"datum": "Adversary", "scale": {"domain": ["Adversary", "Coop. agents"], "range": ["#ff0000", "#0000ff"]}, "legend": {"title": null, "orient": "none", "legendX": 172, "legendY": 119}}}},
   {"data": {"name": "f_c"}, "mark": {"type": "line", "clip": true},
    "encoding": {"x": {"field": "x", "type": "quantitative"}, "y": {"field": "h", "type": "quantitative"}, "color": {"datum": "Coop. agents", "legend": {"title": null, "orient": "none", "legendX": 172, "legendY": 119}}}},
   {"data": {"name": "f_a"}, "mark": {"type": "area", "clip": true},
    "encoding": {"x": {"field": "x", "type": "quantitative"}, "y": {"field": "h", "type": "quantitative"}, "y2": {"field": "l"}, "color": {"datum": "Adversary", "legend": null}}},
   {"data": {"name": "f_a"}, "mark": {"type": "rule", "clip": true},
    "encoding": {"x": {"field": "x", "type": "quantitative"}, "y": {"field": "u", "type": "quantitative"}, "y2": {"field": "d"}, "color": {"datum": "Adversary", "legend": null}}},
   {"data": {"name": "f_c"}, "mark": {"type": "area", "clip": true},
    "encoding": {"x": {"field": "x", "type": "quantitative"}, "y": {"field": "h", "type": "quantitative"}, "y2": {"field": "l"}, "color": {"datum": "Coop. agents", "legend": null}}},
   {"data": {"name": "f_c"}, "mark": {"type": "rule", "clip": true},
    "encoding": {"x": {"field": "x", "type": "quantitative"}, "y": {"field": "u", "type": "quantitative"}, "y2": {"field": "d"}, "color": {"datum": "Coop. agents", "legend": null}}}
  ]}
 ], "spacing": 125, "bounds": "flush", "resolve": {"scale": {"color": "independent"}, "legend": {"color": "independent"}}},
{"hconcat": [
 {"width": 403, "height": 200, "title": "(g) Strategic, H = 0.",
  "layer": [
   {"data": {"name": "g_a"}, "mark": {"type": "line", "clip": true},
    "encoding": {"x": {"field": "x", "type": "quantitative", "scale": {"domain": [0, 10000], "nice": false}, "axis": {"values": [0, 2000, 4000, 6000, 8000, 10000], "format": "d"}},
     "y": {"field": "h", "type": "quantitative", "scale": {"domain": [-5, -1], "nice": false}, "axis": {"values": [-5, -4, -3, -2, -1], "format": "d"}},
     "color": {"datum": "Adversary", "scale": {"domain": ["Adversary", "Coop. agents"], "range": ["#ff0000", "#0000ff"]}, "legend": {"title": null, "orient": "none", "legendX": 172, "legendY": 65}}}},
   {"data": {"name": "g_c"}, "mark": {"type": "line", "clip": true},
    "encoding": {"x": {"field": "x", "type": "quantitative"}, "y": {"field": "h", "type": "quantitative"}, "color": {"datum": "Coop. agents", "legend": {"title": null, "orient": "none", "legendX": 172, "legendY": 65}}}},
   {"data": {"name": "g_a"}, "mark": {"type": "area", "clip": true},
    "encoding": {"x": {"field": "x", "type": "quantitative"}, "y": {"field": "h", "type": "quantitative"}, "y2": {"field": "l"}, "color": {"datum": "Adversary", "legend": null}}},
   {"data": {"name": "g_a"}, "mark": {"type": "rule", "clip": true},
    "encoding": {"x": {"field": "x", "type": "quantitative"}, "y": {"field": "u", "type": "quantitative"}, "y2": {"field": "d"}, "color": {"datum": "Adversary", "legend": null}}},
   {"data": {"name": "g_c"}, "mark": {"type": "area", "clip": true},
    "encoding": {"x": {"field": "x", "type": "quantitative"}, "y": {"field": "h", "type": "quantitative"}, "y2": {"field": "l"}, "color": {"datum": "Coop. agents", "legend": null}}},
   {"data": {"name": "g_c"}, "mark": {"type": "rule", "clip": true},
    "encoding": {"x": {"field": "x", "type": "quantitative"}, "y": {"field": "u", "type": "quantitative"}, "y2": {"field": "d"}, "color": {"datum": "Coop. agents", "legend": null}}}
  ]},
 {"width": 403, "height": 200, "title": "(h) Strategic, H = 1.",
  "layer": [
   {"data": {"name": "h_a"}, "mark": {"type": "line", "clip": true},
    "encoding": {"x": {"field": "x", "type": "quantitative", "scale": {"domain": [0, 10000], "nice": false}, "axis": {"values": [0, 2000, 4000, 6000, 8000, 10000], "format": "d"}},
     "y": {"field": "h", "type": "quantitative", "scale": {"domain": [-5, -1], "nice": false}, "axis": {"values": [-5, -4, -3, -2, -1], "format": "d"}},
     "color": {"datum": "Adversary", "scale": {"domain": ["Adversary", "Coop. agents"], "range": ["#ff0000", "#0000ff"]}, "legend": {"title": null, "orient": "none", "legendX": 172, "legendY": 119}}}},
   {"data": {"name": "h_c"}, "mark": {"type": "line", "clip": true},
    "encoding": {"x": {"field": "x", "type": "quantitative"}, "y": {"field": "h", "type": "quantitative"}, "color": {"datum": "Coop. agents", "legend": {"title": null, "orient": "none", "legendX": 172, "legendY": 119}}}},
   {"data": {"name": "h_a"}, "mark": {"type": "area", "clip": true},
    "encoding": {"x": {"field": "x", "type": "quantitative"}, "y": {"field": "h", "type": "quantitative"}, "y2": {"field": "l"}, "color": {"datum": "Adversary", "legend": null}}},
   {"data": {"name": "h_a"}, "mark": {"type": "rule", "clip": true},
    "encoding": {"x": {"field": "x", "type": "quantitative"}, "y": {"field": "u", "type": "quantitative"}, "y2": {"field": "d"}, "color": {"datum": "Adversary", "legend": null}}},
   {"data": {"name": "h_c"}, "mark": {"type": "area", "clip": true},
    "encoding": {"x": {"field": "x", "type": "quantitative"}, "y": {"field": "h", "type": "quantitative"}, "y2": {"field": "l"}, "color": {"datum": "Coop. agents", "legend": null}}},
   {"data": {"name": "h_c"}, "mark": {"type": "rule", "clip": true},
    "encoding": {"x": {"field": "x", "type": "quantitative"}, "y": {"field": "u", "type": "quantitative"}, "y2": {"field": "d"}, "color": {"datum": "Coop. agents", "legend": null}}}
  ]}
 ], "spacing": 125, "bounds": "flush", "resolve": {"scale": {"color": "independent"}, "legend": {"color": "independent"}}}
]
}
